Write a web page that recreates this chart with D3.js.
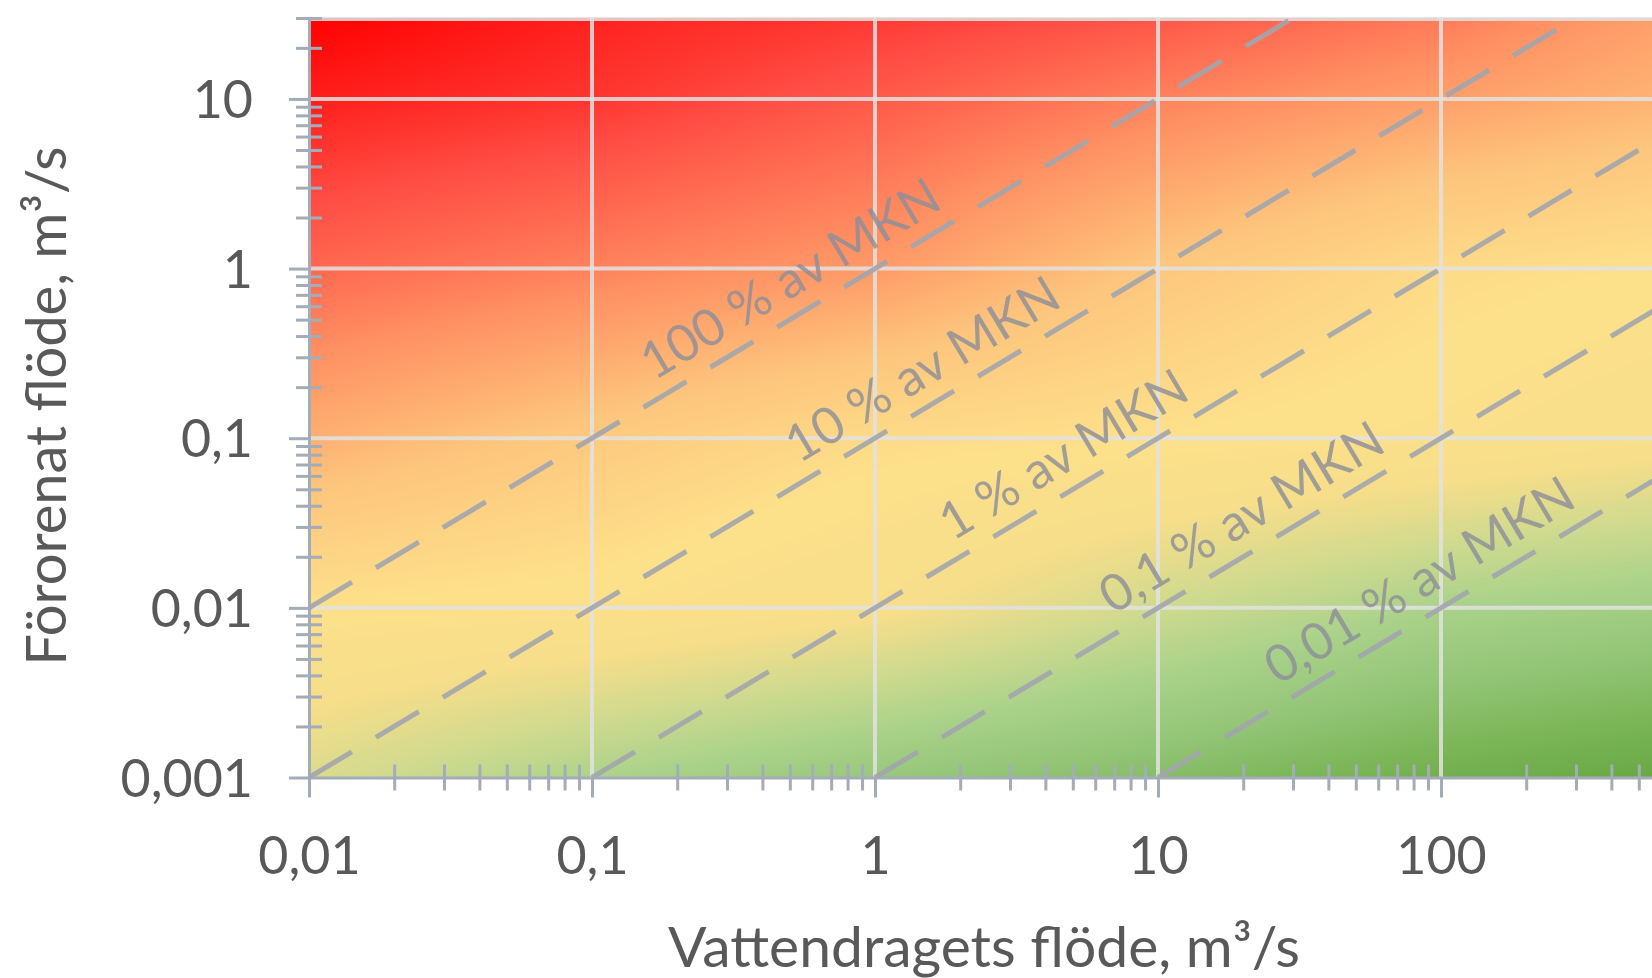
<!DOCTYPE html>
<html>
<head>
<meta charset="utf-8">
<script src="https://cdn.jsdelivr.net/npm/d3@7"></script>
<style>
    body { margin: 0; background: #fff; }
    svg { display: block; }
    text { font-family: Lato, 'Open Sans', sans-serif; }
</style>
</head>
<body>
<svg id="chart"></svg>
<script>
// axes
const flowTicks = [0.01, 0.1, 1, 10, 100];
const flowTickLabels = ['0,01', '0,1', '1', '10', '100'];
const pollTicks = [0.001, 0.01, 0.1, 1, 10];
const pollTickLabels = ['0,001', '0,01', '0,1', '1', '10'];

// dashed ratio lines (pollutant flow = ratio * river flow)
const ratios = [1, 0.1, 0.01, 0.001, 0.0001];
const ratioLabels = ['100 % av MKN', '10 % av MKN', '1 % av MKN', '0,1 % av MKN', '0,01 % av MKN'];
const ratioLabelAt = [0.58, 1.7, 5.35, 22.8, 97]; // river flow where the label sits

// background: colour level read at grid nodes (0 = deep green ... 10 = pure red)
const bgFlow = [0.01, 0.1, 1, 10, 100, 1000];
const bgPoll = [30, 10, 1, 0.1, 0.01, 0.001];
const levelAt30 = [10, 9.55, 9.25, 8.85, 8.3, 7.5];
const levelAt10 = [9.6, 9.3, 8.8, 8.2, 7.7, 7.2];
const levelAt1 = [8.6, 8.2, 7.8, 6.9, 6.2, 5.9];
const levelAt01 = [7.4, 6.8, 6.2, 6.0, 5.7, 5.2];
const levelAt001 = [6.0, 5.8, 5.2, 4.0, 3.0, 2.5];
const levelAt0001 = [4.3, 3.1, 2.2, 1.5, 0.7, 0.1];
const bgLevels = [levelAt30, levelAt10, levelAt1, levelAt01, levelAt001, levelAt0001];
const levelStops = [0, 1, 2, 3, 4, 5, 6, 7, 8, 9, 10];
const levelColors = ['#64a43e', '#79b455', '#93c577', '#aad28a', '#cfda8e', '#f6de8a',
    '#fde08a', '#fdc47c', '#ff8f62', '#ff4c44', '#ff0000'];

const margins = { top: 18, left: 309 };
const width = 1415;
const height = 759.5;
const axisColor = '#a3acb9';
const textColor = '#595959';

const svg = d3.select('#chart').attr('width', 1652).attr('height', 978);

const x = d3.scaleLog().domain([0.01, 1000]).range([0, width]);
const y = d3.scaleLog().domain([0.001, 30]).range([height, 0]);

const g = svg.append('g')
    .attr('transform', `translate(${margins.left},${margins.top})`);

g.append('defs').append('clipPath')
    .attr('id', 'plot-clip')
    .append('rect')
    .attr('width', width)
    .attr('height', height);

// colour field on a canvas, bilinear in log space
const colour = d3.scaleLinear()
    .domain(levelStops)
    .range(levelColors)
    .interpolate(d3.interpolateRgb)
    .clamp(true);
const lut = d3.range(0, 1001).map((i) => d3.rgb(colour(i / 100)));
const lx = bgFlow.map(Math.log10);
const ly = bgPoll.map(Math.log10);

const cw = Math.ceil(width);
const ch = Math.ceil(height);
const canvas = document.createElement('canvas');
canvas.width = cw;
canvas.height = ch;
const ctx = canvas.getContext('2d');
const img = ctx.createImageData(cw, ch);
const colIdx = [];
const colT = [];
for (let px = 0; px < cw; px++) {
    const u = Math.log10(x.invert(px + 0.5));
    let i = d3.bisectRight(lx, u) - 1;
    i = Math.max(0, Math.min(lx.length - 2, i));
    colIdx.push(i);
    colT.push((u - lx[i]) / (lx[i + 1] - lx[i]));
}
for (let py = 0; py < ch; py++) {
    const v = Math.log10(y.invert(py + 0.5));
    let j = 0;
    while (j < ly.length - 2 && v < ly[j + 1]) j++;
    const s = (ly[j] - v) / (ly[j] - ly[j + 1]);
    const r0 = bgLevels[j];
    const r1 = bgLevels[j + 1];
    for (let px = 0; px < cw; px++) {
        const i = colIdx[px];
        const t = colT[px];
        const a = r0[i] + (r0[i + 1] - r0[i]) * t;
        const b = r1[i] + (r1[i + 1] - r1[i]) * t;
        const lev = a + (b - a) * s;
        const c = lut[Math.max(0, Math.min(1000, Math.round(lev * 100)))];
        const k = (py * cw + px) * 4;
        img.data[k] = c.r;
        img.data[k + 1] = c.g;
        img.data[k + 2] = c.b;
        img.data[k + 3] = 255;
    }
}
ctx.putImageData(img, 0, 0);

g.append('image')
    .attr('href', canvas.toDataURL())
    .attr('width', cw)
    .attr('height', ch)
    .attr('preserveAspectRatio', 'none')
    .attr('clip-path', 'url(#plot-clip)');

// grid
const grid = g.append('g')
    .attr('stroke', 'rgba(226,226,226,0.85)')
    .attr('stroke-width', 4);
grid.selectAll('.vgrid')
    .data(flowTicks.slice(1).concat([1000]))
    .join('line')
    .attr('x1', (d) => x(d))
    .attr('x2', (d) => x(d))
    .attr('y1', 0)
    .attr('y2', height);
grid.selectAll('.hgrid')
    .data(pollTicks.slice(1))
    .join('line')
    .attr('x1', 0)
    .attr('x2', width)
    .attr('y1', (d) => y(d))
    .attr('y2', (d) => y(d));
grid.append('line')
    .attr('x1', 0)
    .attr('x2', width)
    .attr('y1', 1)
    .attr('y2', 1);

// minor ticks crossing the axes
const minorX = x.ticks().filter((d) => !flowTicks.includes(d) && d !== 1000);
const minorY = y.ticks().filter((d) => !pollTicks.some((p) => Math.abs(p - d) < 1e-9));

const minorXAxis = g.append('g')
    .attr('transform', `translate(0,${height - 13})`)
    .call(d3.axisBottom(x).tickValues(minorX).tickSize(26).tickFormat(''));
const minorYAxis = g.append('g')
    .attr('transform', 'translate(13,0)')
    .call(d3.axisLeft(y).tickValues(minorY).tickSize(26).tickFormat(''));
[minorXAxis, minorYAxis].forEach((a) => {
    a.select('.domain').remove();
    a.selectAll('.tick line').attr('stroke', axisColor).attr('stroke-width', 3);
});

// main axes
const xAxis = g.append('g')
    .attr('transform', `translate(0,${height})`)
    .call(d3.axisBottom(x)
        .tickValues(flowTicks)
        .tickFormat((d, i) => flowTickLabels[i])
        .tickSizeInner(20)
        .tickSizeOuter(0)
        .tickPadding(40));
const yAxis = g.append('g')
    .call(d3.axisLeft(y)
        .tickValues(pollTicks)
        .tickFormat((d, i) => pollTickLabels[i])
        .tickSizeInner(20)
        .tickSizeOuter(0)
        .tickPadding(36));
[xAxis, yAxis].forEach((a) => {
    a.select('.domain').attr('stroke', axisColor).attr('stroke-width', 3);
    a.selectAll('.tick line').attr('stroke', axisColor).attr('stroke-width', 3);
    a.selectAll('.tick text')
        .attr('fill', textColor)
        .style('font-size', '52px')
        .style('font-family', 'Lato, sans-serif');
});
yAxis.selectAll('.tick text').attr('dy', '0.36em');

// dashed ratio lines
const lineLayer = g.append('g').attr('clip-path', 'url(#plot-clip)');
const [xMin, xMax] = x.domain();
const [yMin, yMax] = y.domain();
lineLayer.selectAll('.ratio-line')
    .data(ratios)
    .join('line')
    .attr('x1', (r) => x(Math.max(xMin, yMin / r)))
    .attr('y1', (r) => y(r * Math.max(xMin, yMin / r)))
    .attr('x2', (r) => x(Math.min(xMax, yMax / r)))
    .attr('y2', (r) => y(r * Math.min(xMax, yMax / r)))
    .attr('stroke', '#a2a5ad')
    .attr('stroke-opacity', 0.9)
    .attr('stroke-width', 5)
    .attr('stroke-dasharray', '50,28');

const angle = Math.atan2(y(10) - y(1), x(10) - x(1)) * 180 / Math.PI;
lineLayer.selectAll('.ratio-label')
    .data(ratios)
    .join('text')
    .attr('transform', (r, i) =>
        `translate(${x(ratioLabelAt[i])},${y(r * ratioLabelAt[i])}) rotate(${angle})`)
    .attr('y', -35)
    .attr('dy', '0.35em')
    .attr('text-anchor', 'middle')
    .style('font-size', '51px')
    .attr('fill', '#8c8f99')
    .attr('fill-opacity', 0.82)
    .text((r, i) => ratioLabels[i]);

// axis titles
svg.append('text')
    .attr('x', 984)
    .attr('y', 967)
    .attr('text-anchor', 'middle')
    .attr('fill', textColor)
    .style('font-size', '57px')
    .text('Vattendragets flöde, m³/s');

svg.append('text')
    .attr('transform', 'translate(66,406) rotate(-90)')
    .attr('text-anchor', 'middle')
    .attr('fill', textColor)
    .style('font-size', '56px')
    .text('Förorenat flöde, m³/s');
</script>
</body>
</html>
